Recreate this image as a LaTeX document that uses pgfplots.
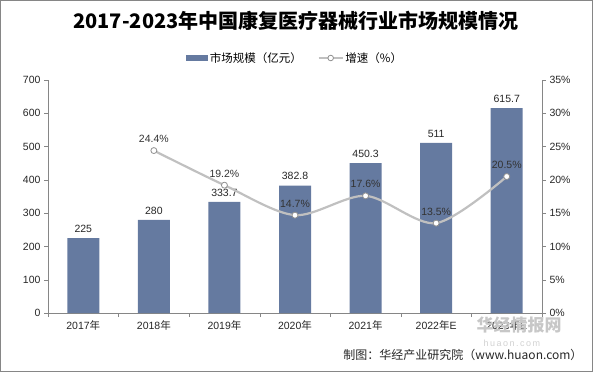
\documentclass[border=0pt]{standalone}
\usepackage{pgfplots}
\pgfplotsset{compat=1.18}
\usepackage{fontspec}
\setmainfont{Liberation Sans}
\newfontfamily\cjk{Noto Sans CJK SC}
\definecolor{barblue}{RGB}{101,122,160}
\definecolor{linegray}{RGB}{192,192,192}
\definecolor{axisgray}{RGB}{134,134,134}
\begin{document}
\begin{tikzpicture}[x=1pt,y=1pt]
\draw[axisgray, line width=0.8pt] (-47.6,-58.6) rectangle (544.6,312.6);
\node[font=\cjk\bfseries\fontsize{20}{23}\selectfont] at (248,292) {2017-2023年中国康复医疗器械行业市场规模情况};
\begin{axis}[
  scale only axis, width=494pt, height=233pt,
  at={(0,0)}, anchor=south west,
  xmin=-0.5, xmax=6.5, ymin=0, ymax=700,
  ytick={0,100,...,700},
  axis x line*=bottom, axis y line*=left,
  axis line style={axisgray},
  xtick={0,...,6},
  xticklabels={2017{\cjk 年},2018{\cjk 年},2019{\cjk 年},2020{\cjk 年},2021{\cjk 年},2022{\cjk 年}E,2023{\cjk 年}E},
  major x tick style={draw=none},
  minor xtick={-0.5,0.5,...,6.5},
  minor x tick style={axisgray},
  y tick style={axisgray},
  tick align=outside,
  major tick length=4pt, minor tick length=4pt,
  tick label style={font=\fontsize{10.5}{12}\selectfont, text=black!85},
  /pgf/number format/assume math mode=true,
  ybar, bar width=32pt,
  nodes near coords,
  point meta=explicit symbolic,
  every node near coord/.append style={font=\fontsize{10.5}{12}\selectfont, text=black!85, yshift=2pt},
  legend style={at={(0.5,1)}, anchor=center, yshift=22pt, draw=none, fill=none,
    legend columns=2, font=\cjk\fontsize{11.5}{13}\selectfont,
    /tikz/every even column/.append style={column sep=14pt}},
  clip=false,
]
\addplot[fill=barblue, draw=none,
  legend image code/.code={\fill[barblue] (0pt,-3pt) rectangle (22pt,3pt);}]
  coordinates {(0,225)[225] (1,280)[280] (2,333.7)[333.7] (3,382.8)[382.8] (4,450.3)[450.3] (5,511)[511] (6,615.7)[615.7]};
\addlegendentry{市场规模（亿元）}
\addlegendimage{legend image code/.code={
  \draw[linegray, line width=1.5pt] (0pt,0pt) -- (24pt,0pt);
  \draw[fill=white, draw=linegray!75!black, line width=0.8pt] (12pt,0pt) circle (2.8pt);}}
\addlegendentry{增速（\%）}
\end{axis}
\begin{axis}[
  scale only axis, width=494pt, height=233pt,
  at={(0,0)}, anchor=south west,
  xmin=-0.5, xmax=6.5, ymin=0, ymax=35,
  ytick={0,5,...,35},
  yticklabel={\pgfmathprintnumber{\tick}\%},
  axis x line=none, axis y line*=right,
  axis line style={axisgray},
  y tick style={axisgray},
  tick align=outside, major tick length=4pt,
  tick label style={font=\fontsize{10.5}{12}\selectfont, text=black!85},
  /pgf/number format/assume math mode=true,
  nodes near coords,
  point meta=explicit symbolic,
  every node near coord/.append style={font=\fontsize{10.5}{12}\selectfont, text=black!80, anchor=south, yshift=4pt},
  clip=false,
]
\addplot[linegray, line width=2.2pt, smooth, mark=*, mark size=3pt,
  mark options={fill=white, draw=linegray!75!black, line width=0.8pt}]
  coordinates {(1,24.4)[24.4\%] (2,19.2)[19.2\%] (3,14.7)[14.7\%] (4,17.6)[17.6\%] (5,13.5)[13.5\%] (6,20.5)[20.5\%]};
\end{axis}
\node[font=\cjk\fontsize{17}{19}\selectfont\bfseries, text=black!22, anchor=west] at (425,-12) {华经情报网};
\node[font=\fontsize{9}{11}\selectfont, text=black!18, anchor=west] at (432,-30) {h\,u\,a\,o\,n\,.\,c\,o\,m};
\node[font=\cjk\fontsize{12}{14}\selectfont, text=black!85, anchor=east] at (538,-42) {制图：华经产业研究院（www.huaon.com）};
\end{tikzpicture}
\end{document}
